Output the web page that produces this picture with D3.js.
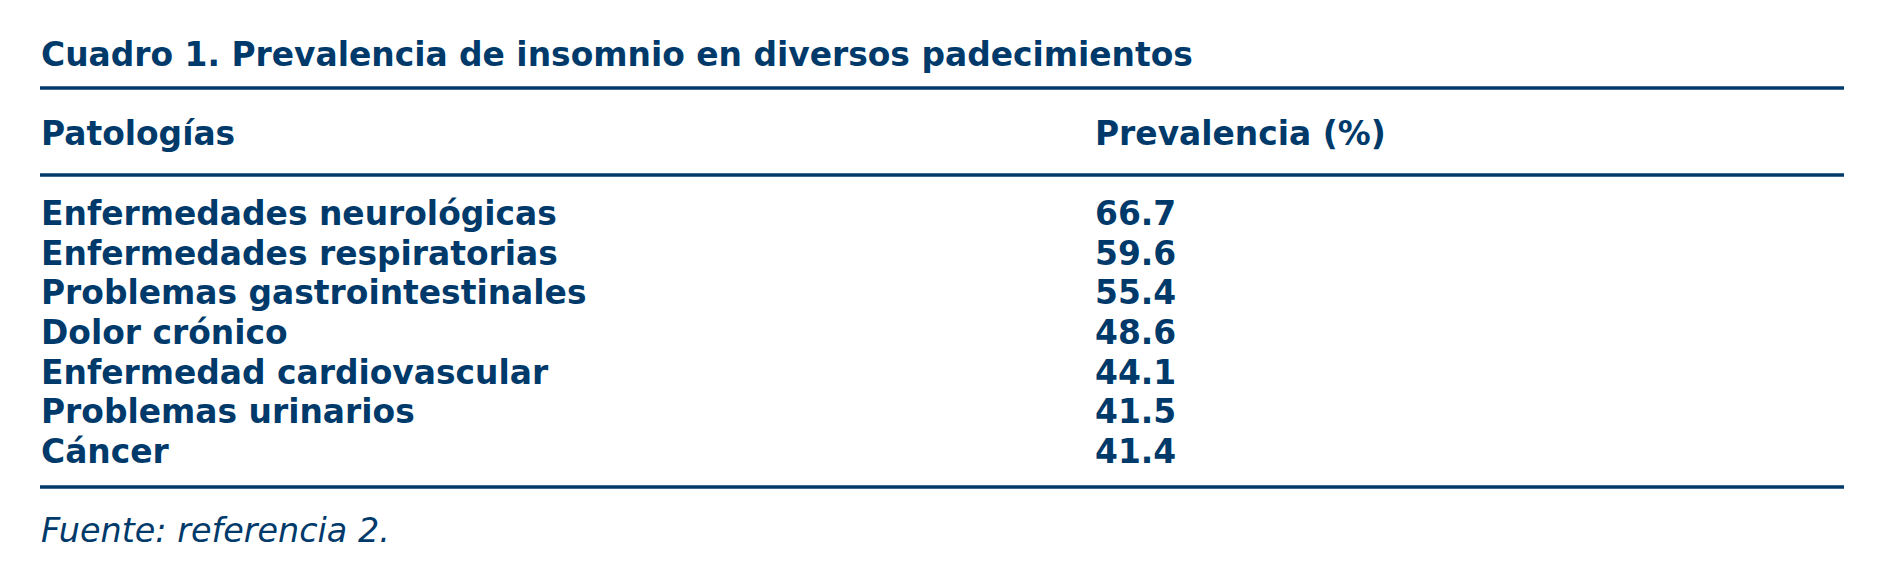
<!DOCTYPE html>
<html lang="es">
<head>
<meta charset="UTF-8">
<script src="https://cdn.jsdelivr.net/npm/d3@7"></script>
<title>Cuadro 1</title>
<style>
  body { margin: 0; background: #fff; }
  text { font-family: "DejaVu Sans", Verdana, sans-serif; fill: #003a6b; }
</style>
</head>
<body>
<div id="chart"></div>
<script>
// datos del cuadro
var titulo = "Cuadro 1. Prevalencia de insomnio en diversos padecimientos";
var encabezados = ["Patologías", "Prevalencia (%)"];
var patologias = [
  "Enfermedades neurológicas",
  "Enfermedades respiratorias",
  "Problemas gastrointestinales",
  "Dolor crónico",
  "Enfermedad cardiovascular",
  "Problemas urinarios",
  "Cáncer"
];
var prevalencia = [66.7, 59.6, 55.4, 48.6, 44.1, 41.5, 41.4];
var fuente = "Fuente: referencia 2.";

var W = 1896, H = 580;
var color = "#003a6b";
var left = 40, right = 1844;
var fs = "32.9px";

const svg = d3.select("#chart").append("svg")
  .attr("width", W)
  .attr("height", H);

// columnas
var x = d3.scaleOrdinal()
  .domain(encabezados)
  .range([left + 1, 1095]);

// filas
var y = d3.scalePoint()
  .domain(patologias)
  .range([225, 463]);

svg.append("text")
  .attr("x", left + 1)
  .attr("y", 66)
  .style("font-size", fs)
  .style("font-weight", "bold")
  .text(titulo);

// lineas horizontales
var reglas = [88, 175, 487];
svg.append("g").selectAll("line")
  .data(reglas)
  .enter()
  .append("line")
  .attr("x1", left)
  .attr("x2", right)
  .attr("y1", d => d)
  .attr("y2", d => d)
  .attr("stroke", color)
  .attr("stroke-width", 3.3);

svg.append("g").selectAll("text")
  .data(encabezados)
  .enter()
  .append("text")
  .attr("x", d => x(d))
  .attr("y", 145)
  .style("font-size", fs)
  .style("font-weight", "bold")
  .text(d => d);

const filas = svg.append("g").selectAll("g")
  .data(patologias)
  .enter()
  .append("g");

filas.append("text")
  .attr("x", x(encabezados[0]))
  .attr("y", d => y(d))
  .style("font-size", fs)
  .style("font-weight", "bold")
  .text(d => d);

filas.append("text")
  .attr("x", x(encabezados[1]))
  .attr("y", d => y(d))
  .style("font-size", fs)
  .style("font-weight", "bold")
  .text((d, i) => prevalencia[i].toFixed(1));

svg.append("text")
  .attr("x", left + 1)
  .attr("y", 542)
  .style("font-size", "33.4px")
  .style("font-style", "italic")
  .text(fuente);
</script>
</body>
</html>
